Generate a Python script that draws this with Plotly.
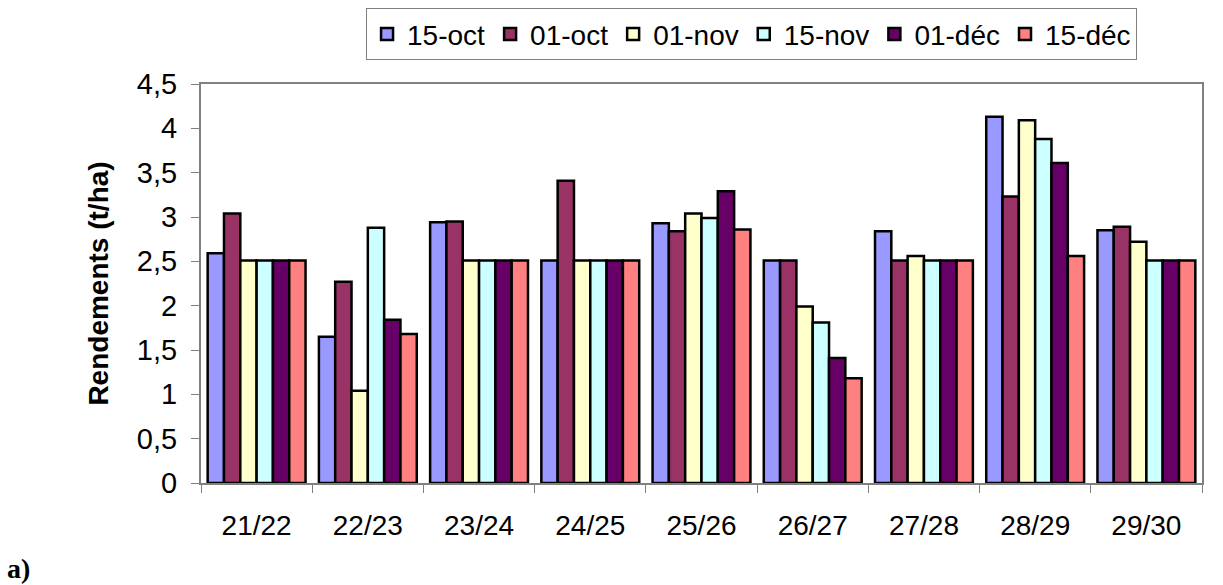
import plotly.graph_objects as go

categories = ["21/22", "22/23", "23/24", "24/25", "25/26", "26/27", "27/28", "28/29", "29/30"]
series_names = ["15-oct", "01-oct", "01-nov", "15-nov", "01-déc", "15-déc"]

s_15oct = [2.59, 1.65, 2.94, 2.51, 2.93, 2.51, 2.84, 4.13, 2.85]
s_01oct = [3.04, 2.27, 2.95, 3.41, 2.84, 2.51, 2.51, 3.23, 2.89]
s_01nov = [2.51, 1.04, 2.51, 2.51, 3.04, 1.99, 2.56, 4.09, 2.72]
s_15nov = [2.51, 2.88, 2.51, 2.51, 2.99, 1.81, 2.51, 3.88, 2.51]
s_01dec = [2.51, 1.84, 2.51, 2.51, 3.29, 1.41, 2.51, 3.61, 2.51]
s_15dec = [2.51, 1.68, 2.51, 2.51, 2.86, 1.18, 2.51, 2.56, 2.51]

colors = ["#9999FF", "#993366", "#FFFFCC", "#CCFFFF", "#660066", "#FF8080"]

y_tickvals = [0, 0.5, 1, 1.5, 2, 2.5, 3, 3.5, 4, 4.5]
y_ticktext = ["0", "0,5", "1", "1,5", "2", "2,5", "3", "3,5", "4", "4,5"]

all_series = [s_15oct, s_01oct, s_01nov, s_15nov, s_01dec, s_15dec]

fig = go.Figure()
for name, vals, col in zip(series_names, all_series, colors):
    fig.add_trace(go.Bar(
        x=categories, y=vals, name=name,
        marker=dict(color=col, line=dict(color="black", width=2.5)),
    ))

font_family = "Liberation Sans, Arial, sans-serif"

fig.update_layout(
    width=1223, height=585,
    margin=dict(l=201, r=21, t=84, b=102, autoexpand=False),
    paper_bgcolor="white", plot_bgcolor="white",
    barmode="group", bargap=0.12, bargroupgap=0,
    font=dict(family=font_family, size=28, color="black"),
    showlegend=True,
    legend=dict(
        orientation="h", x=0.55, xanchor="center", y=1.19, yanchor="top",
        bordercolor="#808080", borderwidth=1, bgcolor="white",
        font=dict(size=28, family=font_family),
        traceorder="normal",
    ),
    xaxis=dict(
        type="category", showgrid=False, zeroline=False,
        showline=True, linecolor="#808080", linewidth=2, mirror=True,
        ticks="outside", tickson="boundaries", ticklen=8, tickcolor="#808080", tickwidth=1,
        tickfont=dict(size=28), ticklabelstandoff=16,
    ),
    yaxis=dict(
        range=[0, 4.5], tickvals=y_tickvals, ticktext=y_ticktext,
        showgrid=False, zeroline=False,
        showline=True, linecolor="#808080", linewidth=2, mirror=True,
        ticks="outside", ticklen=8, tickcolor="#808080", tickwidth=1,
        tickfont=dict(size=29), ticklabelstandoff=8,
        title=dict(text="<b>Rendements (t/ha)</b>", font=dict(size=28), standoff=20),
    ),
    annotations=[dict(
        text="<b>a)</b>", xref="paper", yref="paper", x=-0.196, y=-0.215,
        xanchor="left", yanchor="middle", showarrow=False,
        font=dict(family="Liberation Serif, Times New Roman, serif", size=28, color="black"),
    )],
)

fig.write_html(
    "out.html",
    config={"displayModeBar": False},
    post_script="document.body.style.margin='0px';document.body.style.overflow='hidden';",
)
